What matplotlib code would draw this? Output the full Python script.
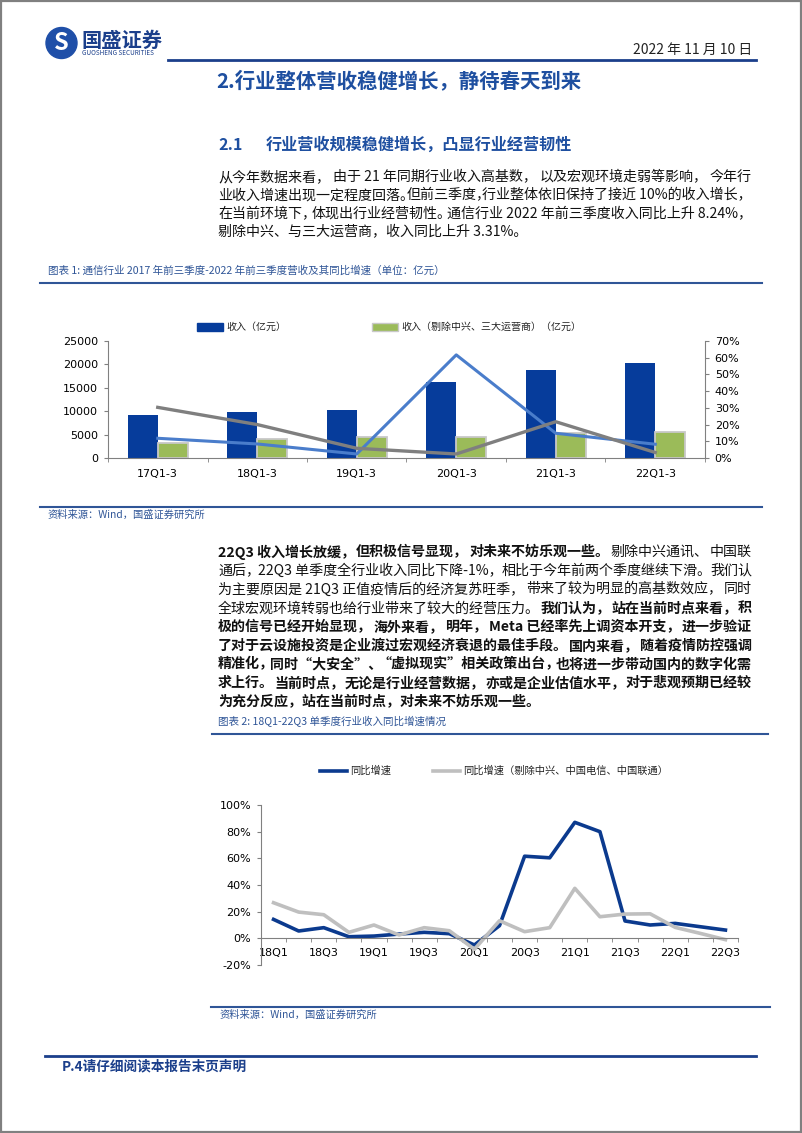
import matplotlib
matplotlib.use('Agg')
import matplotlib.pyplot as plt
from matplotlib.patches import Circle, Rectangle
from matplotlib.ticker import FuncFormatter
import numpy as np

plt.rcParams['font.family'] = ['Noto Sans CJK SC', 'DejaVu Sans']
plt.rcParams['axes.unicode_minus'] = False

# chart 1: 2017-2022 first three quarters revenue (100m yuan) and yoy growth
periods = ['17Q1-3', '18Q1-3', '19Q1-3', '20Q1-3', '21Q1-3', '22Q1-3']
revenue = [9200, 9900, 10200, 16300, 18700, 20200]
revenue_ex = [3300, 4050, 4400, 4550, 5400, 5600]
growth = [0.118, 0.084, 0.024, 0.617, 0.148, 0.0824]
growth_ex = [0.303, 0.200, 0.058, 0.024, 0.217, 0.0331]

# chart 2: single quarter yoy growth 18Q1-22Q3
quarters = ['18Q1', '18Q2', '18Q3', '18Q4', '19Q1', '19Q2', '19Q3', '19Q4',
            '20Q1', '20Q2', '20Q3', '20Q4', '21Q1', '21Q2', '21Q3', '21Q4',
            '22Q1', '22Q2', '22Q3']
yoy = [0.142, 0.055, 0.080, 0.012, 0.017, 0.032, 0.045, 0.035, -0.050, 0.095,
       0.616, 0.604, 0.870, 0.800, 0.130, 0.100, 0.112, 0.087, 0.062]
yoy_ex = [0.267, 0.197, 0.177, 0.045, 0.100, 0.025, 0.080, 0.057, -0.082, 0.132,
          0.050, 0.080, 0.375, 0.162, 0.182, 0.184, 0.082, 0.037, -0.010]

para1 = [
    [('从今年数据来看，由于 21 年同期行业收入高基数，以及宏观环境走弱等影响，今年行', False)],
    [('业收入增速出现一定程度回落。但前三季度，行业整体依旧保持了接近 10%的收入增长，', False)],
    [('在当前环境下，体现出行业经营韧性。通信行业 2022 年前三季度收入同比上升 8.24%，', False)],
    [('剔除中兴、与三大运营商，收入同比上升 3.31%。', False)],
]
para2 = [
    [('22Q3 收入增长放缓，但积极信号显现，对未来不妨乐观一些。', True), ('剔除中兴通讯、中国联', False)],
    [('通后，22Q3 单季度全行业收入同比下降-1%，相比于今年前两个季度继续下滑。我们认', False)],
    [('为主要原因是 21Q3 正值疫情后的经济复苏旺季，带来了较为明显的高基数效应，同时', False)],
    [('全球宏观环境转弱也给行业带来了较大的经营压力。', False), ('我们认为，站在当前时点来看，积', True)],
    [('极的信号已经开始显现，海外来看，明年，Meta 已经率先上调资本开支，进一步验证', True)],
    [('了对于云设施投资是企业渡过宏观经济衰退的最佳手段。国内来看，随着疫情防控强调', True)],
    [('精准化，同时“大安全”、“虚拟现实”相关政策出台，也将进一步带动国内的数字化需', True)],
    [('求上行。当前时点，无论是行业经营数据，亦或是企业估值水平，对于悲观预期已经较', True)],
    [('为充分反应，站在当前时点，对未来不妨乐观一些。', True)],
]

W, H = 802, 1133
NAVY = '#1B3F8B'
CAP = '#2F5597'
BODY = 10.1
X0, X1 = 218, 752
PUNCT = '，。、；：'

fig = plt.figure(figsize=(W / 100, H / 100), dpi=100)
page = fig.add_axes([0, 0, 1, 1])
page.set_xlim(0, W)
page.set_ylim(H, 0)
page.axis('off')
rend = fig.canvas.get_renderer()


def box(l, t, r, b):
    return [l / W, 1 - b / H, (r - l) / W, (b - t) / H]


def split_chunks(parts):
    out = []
    for s, bold in parts:
        cur = ''
        for ch in s:
            cur += ch
            if ch in PUNCT:
                out.append((cur, bold))
                cur = ''
        if cur:
            out.append((cur, bold))
    return out


def body_line(y, parts, justify):
    pieces = split_chunks(parts) if justify else parts
    texts = [page.text(0, y, s, fontsize=BODY, fontweight='bold' if b else 'normal',
                       va='center', ha='left', color='#111111') for s, b in pieces]
    widths = [t.get_window_extent(rend).width for t in texts]
    gap = 0
    if justify and len(texts) > 1:
        gap = (X1 - X0 - sum(widths)) / (len(texts) - 1)
    pos = X0
    for t, w in zip(texts, widths):
        t.set_x(pos)
        pos += w + gap


def latin(ax):
    for lab in ax.get_xticklabels() + ax.get_yticklabels():
        lab.set_fontfamily('DejaVu Sans')


# page frame and header
page.add_patch(Rectangle((0.8, 0.8), W - 1.6, H - 1.6, fill=False, ec='#808080', lw=1.6))
page.add_patch(Circle((61.5, 43), 15.5, color='#1F4FA8'))
page.text(61.5, 43.5, 'S', color='white', fontsize=17, fontweight='bold', ha='center', va='center')
page.text(81, 40, '国盛证券', color=NAVY, fontsize=14.6, fontweight='bold', va='center')
page.text(82, 53, 'GUOSHENG SECURITIES', color=NAVY, fontsize=4.6, va='center')
page.text(752, 50, '2022 年 11 月 10 日', color='#222222', fontsize=10, ha='right', va='center')
page.plot([168, 756], [60, 60], color=NAVY, lw=2)

page.text(399, 81, '2.行业整体营收稳健增长，静待春天到来', color='#1E4FA0', fontsize=14.7,
          fontweight='bold', ha='center', va='center')
page.text(218, 145, '2.1', color='#1E4FA0', fontsize=11.6, fontweight='bold', va='center')
page.text(266, 145, '行业营收规模稳健增长，凸显行业经营韧性', color='#1E4FA0', fontsize=11.6,
          fontweight='bold', va='center')

for i, parts in enumerate(para1):
    body_line(177 + i * 18.4, parts, i < len(para1) - 1)

# chart 1 caption and source
page.text(48, 271, '图表 1: 通信行业 2017 年前三季度-2022 年前三季度营收及其同比增速（单位：亿元）',
          color=CAP, fontsize=7.6, va='center')
page.plot([40, 762], [283, 283], color=CAP, lw=1.5)
page.plot([40, 762], [507, 507], color=CAP, lw=1.5)
page.text(48, 515, '资料来源：Wind，国盛证券研究所', color=CAP, fontsize=7.4, va='center')

# chart 1 legend
page.add_patch(Rectangle((197, 323), 26, 8, color='#063C9B'))
page.text(226, 327, '收入（亿元）', fontsize=7.2, va='center', color='#222222')
page.add_patch(Rectangle((372, 323), 26, 8, fc='#9BBB59', ec='#C8C8C8', lw=1))
page.text(401, 327, '收入（剔除中兴、三大运营商）（亿元）', fontsize=7.2, va='center', color='#222222')

ax1 = fig.add_axes(box(108, 341, 705, 458))
ax1.patch.set_alpha(0)
x = np.arange(len(periods))
ax1.bar(x - 0.15, revenue, width=0.3, color='#063C9B')
ax1.bar(x + 0.15, revenue_ex, width=0.3, color='#9BBB59', edgecolor='#C8C8C8', linewidth=1.3)
ax1.set_xlim(-0.5, len(periods) - 0.5)
ax1.set_ylim(0, 25000)
ax1.set_yticks(range(0, 25001, 5000))
ax1.set_xticks(x)
ax1.set_xticklabels(periods)
ax1.set_xticks(np.arange(len(periods) + 1) - 0.5, minor=True)
ax1.tick_params(axis='x', which='major', length=0, pad=8, labelsize=8)
ax1.tick_params(axis='x', which='minor', length=3, color='#808080')
ax1.tick_params(axis='y', length=3, color='#808080', labelsize=8, pad=4)
latin(ax1)
for s in ['top', 'right']:
    ax1.spines[s].set_visible(False)
for s in ['left', 'bottom']:
    ax1.spines[s].set_color('#808080')

ax1r = ax1.twinx()
ax1r.plot(x, growth, color='#4A7DCB', lw=2.2)
ax1r.plot(x, growth_ex, color='#7F7F7F', lw=2.4)
ax1r.set_ylim(0, 0.7)
ax1r.set_yticks(np.arange(0, 0.71, 0.1))
ax1r.yaxis.set_major_formatter(FuncFormatter(lambda v, p: f'{v * 100:.0f}%'))
ax1r.tick_params(axis='y', length=3, color='#808080', labelsize=8, pad=4)
latin(ax1r)
for s in ['top', 'left', 'bottom']:
    ax1r.spines[s].set_visible(False)
ax1r.spines['right'].set_color('#808080')

# paragraph 2
for i, parts in enumerate(para2):
    body_line(552 + i * 18.75, parts, i < len(para2) - 1)

# chart 2 caption, legend, source
page.text(218, 722, '图表 2: 18Q1-22Q3 单季度行业收入同比增速情况', color=CAP, fontsize=7.6, va='center')
page.plot([212, 768], [734, 734], color=CAP, lw=1.5)
page.plot([320, 347], [771, 771], color='#0B3A8E', lw=2.6)
page.text(350, 771, '同比增速', fontsize=7.4, va='center', color='#222222')
page.plot([433, 460], [771, 771], color='#BFBFBF', lw=2.6)
page.text(463, 771, '同比增速（剔除中兴、中国电信、中国联通）', fontsize=7.4, va='center', color='#222222')
page.plot([211, 770], [1007, 1007], color=CAP, lw=1.5)
page.text(219, 1015, '资料来源：Wind，国盛证券研究所', color=CAP, fontsize=7.4, va='center')

ax2 = fig.add_axes(box(261, 805, 738, 965))
ax2.patch.set_alpha(0)
q = np.arange(len(quarters))
ax2.plot(q, yoy, color='#0B3A8E', lw=2.6)
ax2.plot(q, yoy_ex, color='#BFBFBF', lw=2.6)
ax2.set_xlim(-0.5, len(quarters) - 0.5)
ax2.set_ylim(-0.2, 1.0)
ax2.set_yticks(np.arange(-0.2, 1.01, 0.2))
ax2.yaxis.set_major_formatter(FuncFormatter(lambda v, p: f'{v * 100:.0f}%'))
ax2.spines['bottom'].set_position(('data', 0))
ax2.set_xticks(q[::2])
ax2.set_xticklabels(quarters[::2])
ax2.set_xticks(np.arange(len(quarters) + 1) - 0.5, minor=True)
ax2.tick_params(axis='x', which='major', length=0, pad=7, labelsize=8)
ax2.tick_params(axis='x', which='minor', length=3, color='#808080')
ax2.tick_params(axis='y', length=3, color='#808080', labelsize=8, pad=4)
latin(ax2)
for s in ['top', 'right']:
    ax2.spines[s].set_visible(False)
for s in ['left', 'bottom']:
    ax2.spines[s].set_color('#808080')

# footer
page.plot([45, 756], [1056, 1056], color=NAVY, lw=2)
page.text(62, 1066, 'P.4请仔细阅读本报告末页声明', color=NAVY, fontsize=9.8, fontweight='bold', va='center')

fig.savefig('out.png', dpi=100)
